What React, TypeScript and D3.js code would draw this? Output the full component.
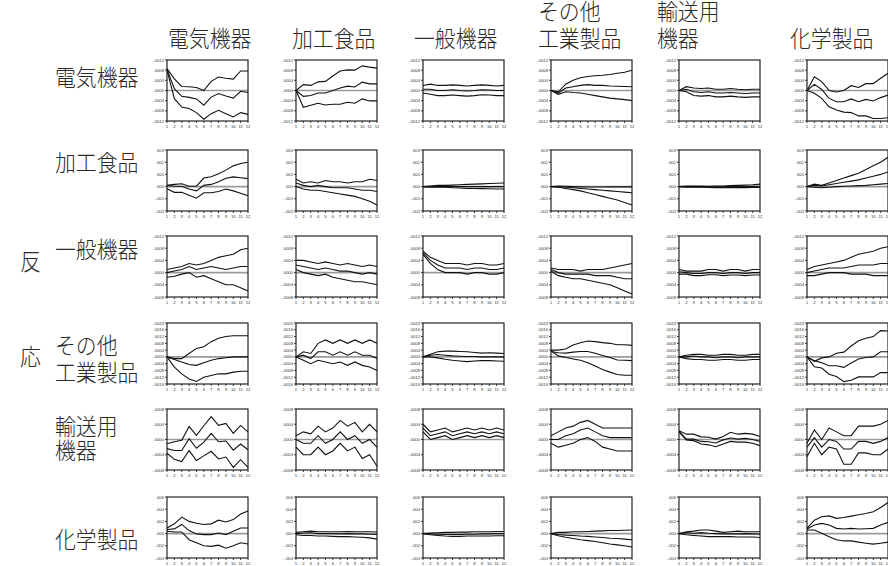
import React from "react";
import * as d3 from "d3";

// Shock (column) and response (row) industries
const shocks = ["電気機器", "加工食品", "一般機器", "その他\n工業製品", "輸送用\n機器", "化学製品"];
const responses = ["電気機器", "加工食品", "一般機器", "その他\n工業製品", "輸送用\n機器", "化学製品"];
const steps = [1, 2, 3, 4, 5, 6, 7, 8, 9, 10, 11, 12];

// y tick values per response row (units of 1e-4)
const rowTicks = [
  [-12, -8, -4, 0, 4, 8, 12],
  [-20, -10, 0, 10, 20, 30],
  [-8, -4, 0, 4, 8, 12],
  [-16, -12, -8, -4, 0, 4, 8, 12, 16, 20],
  [-8, -4, 0, 4, 8],
  [-40, -20, 0, 20, 40, 60],
];
const rowDecimals = [4, 3, 4, 4, 4, 3];

// Impulse responses, units of 1e-4 ; [row][col][step]
const upper = [
  [
    [8.6, 4.6, 1.6, 1.5, 1.2, 0, 3.6, 5.3, 4.8, 4.5, 7.7, 7.7],
    [0, 2.3, 2, 3.4, 3.6, 5.7, 7.7, 8.1, 8, 9.7, 9.2, 8.8],
    [2, 2.5, 2, 2, 2.2, 2, 1.8, 2, 2.2, 2, 1.8, 2],
    [0, -0.5, 2.5, 4, 5, 5.5, 5.8, 6, 6.3, 6.8, 7.2, 8],
    [0, 1.5, 1, 0.8, 1, 0.5, 0.5, 0.8, 0.5, 0.3, 0.5, 0.5],
    [0, 5.4, 3.5, 0, -0.6, 0, 1.9, 1.2, 2.7, 2.7, 4.8, 6.8],
  ],
  [
    [1, 1.8, 2.3, 0.3, 0.3, 7, 8, 10.5, 13.5, 17, 19, 20],
    [6, 3, 4, 3, 5, 4, 4, 3, 4, 4, 6, 5],
    [0, 0.5, 1, 1, 1.2, 1.5, 1.8, 2, 2.2, 2.5, 2.8, 3],
    [0, 0.5, 0.3, 0, -0.2, -0.3, -0.3, -0.3, -0.2, -0.2, -0.2, -0.2],
    [0, 0.5, 0.5, 0.5, 0.3, 0.5, 0.5, 0.8, 1, 1.2, 1.5, 2],
    [0, 2, 1, 3, 5, 7, 9, 11, 14, 17, 20, 24],
  ],
  [
    [1, 1.5, 2, 3, 2.5, 3, 4, 5, 5.5, 6, 7.5, 8],
    [4, 4, 3.5, 3, 3.5, 3, 2.5, 3, 2.5, 2, 2.5, 2],
    [7, 5, 4, 3, 3, 3, 2.5, 3, 3, 2.5, 2.5, 3],
    [1.5, 1, 1, 1, 0.5, 1, 1, 1, 1.5, 2, 2.5, 3],
    [1, 0.5, 0.5, 0.5, 1, 1, 0.5, 1, 1, 0.5, 1, 1],
    [1, 2, 2.5, 3, 3.5, 4, 5, 6, 6.5, 7, 8, 8.5],
  ],
  [
    [0, -1, -1, 2, 5, 6, 9, 11, 12, 12.5, 12.5, 12.5],
    [0, 3, 2, 8, 10, 8, 10, 8, 10, 8, 10, 8],
    [0, 1.6, 3, 3.4, 3.4, 3.2, 3, 2.6, 2.2, 2.4, 2.2, 2],
    [4, 4, 4.6, 7, 8.4, 9.4, 9, 8.4, 8, 7.2, 7.2, 6.8],
    [0, 1, 1.5, 1.5, 1, 1, 1.5, 1.5, 1, 1, 1.5, 1.5],
    [0, -2.6, -0.6, 0, 2.2, 2.8, 6.4, 9.5, 11, 12, 15.5, 15.3],
  ],
  [
    [-1.1, -0.6, -0.2, 3.4, 1.1, 3.6, 6, 3.7, 4.2, 1.6, 3.7, 2],
    [1, 2, 1.5, 3.5, 2, 3, 5, 3.5, 4.5, 2, 4, 2],
    [4, 2, 2.5, 3, 2, 2.5, 3, 2.5, 3, 2.5, 3, 2.5],
    [1, 2, 3, 3.5, 4.5, 5, 4, 3, 3, 3, 3, 3],
    [2.3, 1.4, 1.4, 0.7, 0.6, 0.1, 0.8, 1.9, 1.4, 1.6, 1.4, 0.8],
    [-1, 2.5, 0, 3, 2, 1, 1, 3.5, 3.5, 3.5, 4, 5],
  ],
  [
    [9.3, 16, 27, 20, 17, 15, 16, 22, 19, 23, 32, 37],
    [2, 3, 4, 3, 3, 3, 3, 3.5, 3, 3, 3, 2.5],
    [0, 1, 1.5, 2, 2, 2.5, 2.5, 3, 3, 3, 3.5, 3.5],
    [0, 2, 2, 3, 3, 3.5, 4, 4.5, 5, 5, 5.5, 6],
    [0, 3, 4, 6, 6, 4, 2, 3, 4, 3, 3, 3],
    [8.6, 22, 27.6, 29, 25, 26.5, 28.6, 30.8, 33, 35.7, 42.7, 51],
  ],
];

const middle = [
  [
    [8.3, 0.7, -2.3, -2.7, -3.3, -5.8, -2.6, -1.2, -2.2, -3, -0.3, -0.8],
    [0, -2.3, -2, -1, -1, 0, 1, 1.7, 1.4, 3.3, 2.6, 2.6],
    [0.5, 0.5, 0, 0, 0.3, 0, -0.2, 0, 0.3, 0.2, 0, 0],
    [0, -1, 1, 1.5, 2, 2.3, 2, 2, 1.8, 1.7, 1.6, 1.5],
    [0, 0.5, -0.5, -0.8, -0.5, -1, -1, -0.8, -1, -1.2, -1, -1],
    [0, 2.4, 0.4, -3.1, -4.4, -4.4, -3.3, -4.4, -3.5, -4.1, -2.8, -1.8],
  ],
  [
    [1, 0.3, 0.3, -2, -3.5, 1, 1.8, 4, 6.8, 8, 7.3, 6.5],
    [3, 1, 0, 1, 0, -1, -1, -1, -2, -3, -3, -4],
    [0, 0, 0.3, 0.2, 0, 0, 0, 0, 0, 0, 0, 0],
    [0, 0, -0.5, -1, -1.5, -2, -2.5, -3, -3.5, -4, -4.5, -5],
    [0, 0, 0, 0, -0.2, -0.2, -0.2, 0, 0, 0, 0.2, 0.3],
    [0, 1, 0.5, 1.5, 2.5, 3.5, 4.5, 5.5, 7, 8.5, 10, 12],
  ],
  [
    [0, 0.5, 1, 2, 1, 1.5, 2, 1.5, 1, 1.5, 2, 2],
    [2.5, 2, 1.5, 1, 1.5, 1, 0.5, 0.5, 0, -0.5, 0, -0.5],
    [6.5, 4, 2.5, 1.5, 1.5, 1.5, 1, 1.5, 1.5, 1, 1, 1.5],
    [1, 0, -0.5, -0.5, -0.5, -0.5, -1, -1, -1, -1.5, -2, -2],
    [0.3, 0, -0.3, -0.3, 0, 0, -0.3, 0, 0, -0.3, 0, 0],
    [0, 0.5, 1, 1.5, 1.5, 1.5, 2, 2.5, 2.5, 2.5, 3, 3],
  ],
  [
    [0, -1.5, -3, -4.5, -5, -3.5, -2, -1, -0.5, 0, 0, 0],
    [0, 1, -1, 3, 3, 1, 3, 1, 3, 1, 1, -1],
    [0, 1, 1.4, 1, 0.6, 0.4, 0.2, 0.2, 0, 0, 0, 0],
    [3.2, 2.4, 2.2, 2.8, 3.2, 3.2, 2.2, 0.8, -0.4, -1.8, -2, -2.2],
    [0, 0, 0.5, 0, 0, -0.5, 0, 0, -0.5, 0, 0, 0],
    [0, -2.2, -3.4, -5.2, -5.2, -6.2, -3.6, -1.2, -0.4, 0, 3, 3],
  ],
  [
    [-2.4, -2.9, -2.9, 0.2, -2.3, -0.7, 1.6, -0.6, -0.4, -2.8, -1.2, -2.7],
    [0, -1, -1, 1, -1, 0, 2, 0, 1, -1, 0, -2],
    [3, 1, 1.5, 2, 1, 1.5, 2, 1.5, 2, 1.5, 2, 1.5],
    [0, 0, 1, 1.5, 2.5, 3, 2, 1, 0.5, 0.5, 0.5, 0.5],
    [2.1, 0.1, 0.1, -0.5, -0.6, -0.9, -0.1, 0.4, 0.1, 0.3, 0, -0.5],
    [-2, 0.5, -2, 0, -0.5, -2.5, -2.5, -0.5, -0.5, -1, -0.5, 0.5],
  ],
  [
    [6.6, 7.7, 15, 5, -0.5, -1.6, -1.6, 1, -1.6, 3.8, 9.3, 9.3],
    [0, 1, 1.5, 0, 0, 0, -0.5, 0, -0.5, -0.5, -1, -1.5],
    [0, -0.5, -1, -1.5, -1.5, -1.5, -1, -1, -0.5, -0.5, 0, 0],
    [0, -1.5, -2.5, -3, -4, -4.5, -5.5, -6.5, -7.5, -8, -9, -10],
    [0, 1.6, 0.5, 1.6, 0.5, 0, -0.5, -0.5, -0.5, 0, -0.5, -1],
    [7.6, 14, 16.8, 14, 8.6, 7.6, 8.6, 7.6, 8, 8.6, 14, 18.4],
  ],
];

const lower = [
  [
    [8, -3.2, -6.5, -7.1, -8.7, -11.3, -9.1, -7.8, -9.1, -10.4, -8.7, -9.4],
    [0, -6.6, -5.8, -5, -5.7, -5.4, -5.4, -4.6, -5, -3.3, -4.1, -4.1],
    [-1, -1.5, -2, -2, -1.8, -2, -2.2, -2, -1.7, -1.8, -2, -2],
    [0, -1.5, -0.5, -0.8, -1, -1.5, -2, -2.5, -3, -3.3, -3.6, -4],
    [0, -0.5, -2, -2.2, -2, -2.5, -2.5, -2.2, -2.5, -2.7, -2.5, -2.5],
    [0, -1.1, -3.1, -6.4, -7.7, -8.5, -8.7, -10, -10, -11, -11, -10.7],
  ],
  [
    [-1.8, -4.7, -4.7, -7, -9.5, -5, -5, -4, -2, -3.5, -5.5, -7.5],
    [0, -2, -3, -3, -4, -5, -6, -7, -8, -10, -12, -15],
    [0, -0.5, -0.3, -0.5, -1, -1.2, -1.5, -1.5, -1.7, -1.8, -2, -2],
    [0, -0.5, -1.5, -2.5, -3.5, -5, -6.5, -8, -9.5, -11, -13, -15],
    [0, -0.5, -0.5, -0.5, -0.7, -0.8, -0.8, -0.8, -0.8, -0.8, -0.7, -0.7],
    [0, -0.5, -1, -0.5, 0, 0.3, 0.5, 0.8, 1, 1.5, 2, 2.5],
  ],
  [
    [-1.5, -1.2, -0.5, 0, -1.5, -1, -2, -3, -4, -4, -5, -6],
    [1, 0, -0.5, -1, -0.5, -1.5, -2, -2.5, -3, -3, -3.5, -4],
    [6, 3, 1, 0, 0, 0, -0.5, 0, 0, -0.5, -0.5, 0],
    [0.5, -1, -1.5, -2, -2, -2.5, -3, -3.5, -4, -5, -6, -7],
    [-0.5, -0.5, -1, -1, -0.7, -0.7, -1, -0.8, -0.8, -1, -0.8, -0.8],
    [-1, -1, -0.5, 0, 0, 0, -0.5, -0.5, -0.5, -1, -1, -1],
  ],
  [
    [0, -6, -10, -13, -14.5, -12, -11, -10, -10, -9, -8.5, -8.5],
    [0, -2, -4, -2, -3, -4, -3, -5, -3, -5, -6, -8],
    [0, 0, -0.6, -1.4, -2, -2.4, -2.8, -2.4, -2.2, -2.2, -2.4, -2.6],
    [3.6, 0.6, -0.4, -1.2, -2, -3.4, -5.4, -7.4, -9, -10.4, -10.8, -10.8],
    [0, -1, -1.5, -1.5, -2, -2, -1.5, -1.5, -2, -2, -1.5, -1.5],
    [0, -5.8, -6.6, -10.2, -11.6, -14.6, -13.8, -11.8, -11.8, -11.8, -9.3, -9.3],
  ],
  [
    [-3.6, -5.2, -5.8, -2.9, -5.5, -4.3, -3.1, -5.1, -4.6, -7.3, -5.3, -7.3],
    [-2, -4, -4, -2, -4, -3, -1, -3, -2, -5, -4, -7],
    [2, 0, 0.5, 1, 0, 0.5, 1, 0.5, 1, 0.5, 1, 0.5],
    [-1, -2, -1.5, -1, 0, 0.5, -0.5, -2, -2.5, -3, -3, -3],
    [2, -0.1, -0.3, -1.2, -1.4, -1.9, -1.2, -0.5, -0.7, -0.7, -1, -1.6],
    [-4.5, -1, -4, -2, -2.5, -6.5, -6.5, -3.5, -3.5, -4, -4, -2.5],
  ],
  [
    [3.8, 2.7, 2.7, -10, -15, -20, -21, -19, -24, -20, -15, -17],
    [-2, -3, -3, -4, -4, -4.5, -5, -5, -5.5, -6, -7, -9],
    [0, -2, -3, -4, -4.5, -4.5, -4, -4, -4, -4, -3.5, -3.5],
    [0, -3.5, -6, -8, -10, -11.5, -13, -15, -17, -18.5, -20, -22],
    [0, -2, -3, -4, -5, -5, -5, -5, -5.5, -5.5, -5.5, -6.5],
    [6, 6, 0.5, -5, -10, -12, -12, -14, -15.7, -17.3, -15.7, -14],
  ],
];

const colX = [167, 296, 423, 551, 679, 807];
const rowY = [60, 150, 236, 323, 409, 497];
const PW = 81;
const PH = 61;
const CJK = "'Noto Sans CJK JP', 'Noto Sans', sans-serif";
const TICKF = "'Liberation Sans', Arial, sans-serif";

function fmtTick(v: number, dec: number) {
  const s = d3.format(`.${dec}f`)(v / 10000);
  return s.replace("0.", ".").replace("−", "-");
}

function Panel({ r, c }: { r: number; c: number }) {
  const ticks = rowTicks[r];
  const x = d3.scaleLinear().domain([1, 12]).range([0, PW]);
  const y = d3
    .scaleLinear()
    .domain([ticks[0], ticks[ticks.length - 1]])
    .range([PH, 0]);
  const line = d3
    .line<number>()
    .x((_, i) => x(steps[i]))
    .y((d) => y(d));
  const series = [upper[r][c], middle[r][c], lower[r][c]];
  return (
    <g transform={`translate(${colX[c]},${rowY[r]})`}>
      <line x1={0} x2={PW} y1={y(0)} y2={y(0)} stroke="#9a9a9a" strokeWidth={1.6} />
      {series.map((s, i) => (
        <path key={i} d={line(s) || ""} fill="none" stroke="#111" strokeWidth={1.1} />
      ))}
      <rect x={0} y={0} width={PW} height={PH} fill="none" stroke="#111" strokeWidth={1.1} />
      {ticks.map((t) => (
        <g key={t}>
          <line x1={-2} x2={0} y1={y(t)} y2={y(t)} stroke="#111" strokeWidth={0.8} />
          <text x={-3} y={y(t) + 1.5} textAnchor="end" fontSize={4.2} fontFamily={TICKF} fill="#333">
            {fmtTick(t, rowDecimals[r])}
          </text>
        </g>
      ))}
      {steps.map((s) => (
        <g key={s}>
          <line x1={x(s)} x2={x(s)} y1={PH} y2={PH + 2} stroke="#111" strokeWidth={0.8} />
          <text x={x(s)} y={PH + 6.5} textAnchor="middle" fontSize={4.2} fontFamily={TICKF} fill="#333">
            {s}
          </text>
        </g>
      ))}
    </g>
  );
}

const headerX = [168, 292, 414, 538, 657, 790];
const rowLabelBase = [86, 171, 258, 381, 459, 548];
const rowLineGap = [0, 0, 0, 27, 24, 0];

function Label({ x, y, text }: { x: number; y: number; text: string }) {
  return (
    <text
      transform={`translate(${x},${y}) scale(0.97,1.07)`}
      fontFamily={CJK}
      fontSize={21.5}
      fontWeight={300}
      fill="#2a2a2a"
    >
      {text}
    </text>
  );
}

export default function App() {
  return (
    <svg
      width={888}
      height={566}
      viewBox="0 0 888 566"
      style={{ position: "absolute", left: 0, top: 0, background: "#fff" }}
    >
      <rect width={888} height={566} fill="#fff" />
      {shocks.map((s, i) => {
        const parts = s.split("\n");
        return parts.map((p, j) => (
          <Label key={`h${i}-${j}`} x={headerX[i]} y={47 - (parts.length - 1 - j) * 27} text={p} />
        ));
      })}
      {responses.map((s, i) => {
        const parts = s.split("\n");
        return parts.map((p, j) => (
          <Label
            key={`r${i}-${j}`}
            x={55}
            y={rowLabelBase[i] - (parts.length - 1 - j) * rowLineGap[i]}
            text={p}
          />
        ));
      })}
      <Label x={20} y={270} text="反" />
      <Label x={20} y={365} text="応" />
      {responses.map((_, r) => shocks.map((__, c) => <Panel key={`${r}-${c}`} r={r} c={c} />))}
    </svg>
  );
}
